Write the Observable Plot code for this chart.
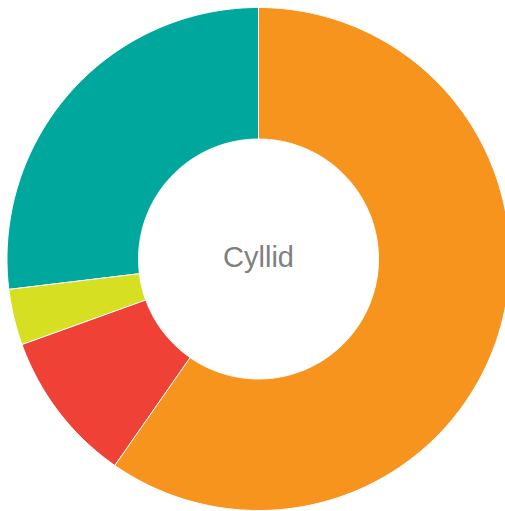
<!DOCTYPE html>
<html>
<head>
<meta charset="utf-8">
<script src="https://cdn.jsdelivr.net/npm/d3@7"></script>
<script src="https://cdn.jsdelivr.net/npm/@observablehq/plot@0.6"></script>
<style>
  html, body { margin: 0; padding: 0; background: #ffffff; overflow: hidden; }
  #chart svg { display: block; }
</style>
</head>
<body>
<div id="chart"></div>
<script>
// Data
const categories = ["Segment A", "Segment B", "Segment C", "Segment D"];
const values = [59.7, 9.8, 3.6, 26.9];
const colors = ["#F7941D", "#EF4136", "#D7DF23", "#00A79D"];
const centerLabel = "Cyllid";

// Layout
const W = 505, H = 511;
const cx = 258, cy = 258.5;
const rOuter = 251.5, rInner = 120;

const pie = d3.pie().sort(null).value(d => d.value);
const arcs = pie(categories.map((c, i) => ({category: c, value: values[i]})));

// Build polygon outlines for each slice (computed from the data angles)
const pts = [];
for (const a of arcs) {
  const n = Math.max(8, Math.ceil((a.endAngle - a.startAngle) * 120));
  for (let k = 0; k <= n; k++) {
    const t = a.startAngle + (a.endAngle - a.startAngle) * k / n;
    pts.push({category: a.data.category, x: cx + rOuter * Math.sin(t), y: cy - rOuter * Math.cos(t)});
  }
  for (let k = n; k >= 0; k--) {
    const t = a.startAngle + (a.endAngle - a.startAngle) * k / n;
    pts.push({category: a.data.category, x: cx + rInner * Math.sin(t), y: cy - rInner * Math.cos(t)});
  }
}

const chart = Plot.plot({
  width: W,
  height: H,
  margin: 0,
  style: {background: "#ffffff", overflow: "hidden"},
  x: {type: "linear", domain: [0, W], range: [0, W], axis: null},
  y: {type: "linear", domain: [0, H], range: [0, H], axis: null},
  color: {type: "ordinal", domain: categories, range: colors},
  marks: [
    Plot.line(pts, {
      x: "x", y: "y", z: "category",
      fill: "category",
      stroke: "#ffffff",
      strokeWidth: 1,
      curve: "linear-closed"
    }),
    Plot.text([centerLabel], {
      x: () => cx, y: () => cy - 1.5,
      text: d => d,
      fontSize: 29,
      fontFamily: "Liberation Sans, Arial, Helvetica, sans-serif",
      fill: "#808080",
      textAnchor: "middle"
    })
  ]
});
document.getElementById("chart").appendChild(chart);
</script>
</body>
</html>
